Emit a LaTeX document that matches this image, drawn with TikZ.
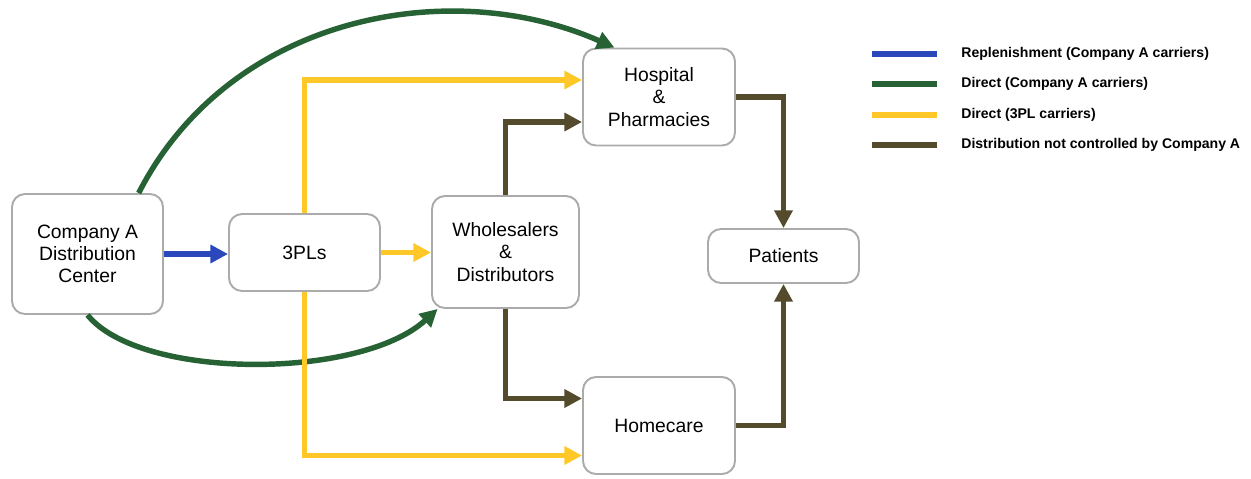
\documentclass[tikz,border=0pt]{standalone}
\usepackage{fontspec}
\setmainfont{Liberation Sans}
\usetikzlibrary{calc,arrows.meta}
\definecolor{repblue}{RGB}{42,72,188}
\definecolor{dirgreen}{RGB}{38,98,52}
\definecolor{plyellow}{RGB}{255,200,40}
\definecolor{ncbrown}{RGB}{84,74,44}
\tikzset{
	box/.style={draw=black!33, line width=1.1pt, rounded corners=0.26cm, fill=white, align=center, inner sep=0pt, font=\fontsize{11}{12.6}\selectfont},
	flow/.style={line width=3.1pt, -{Triangle[length=10pt,width=10pt]}},
	key/.style={line width=3.1pt},
	keytext/.style={anchor=west, inner sep=0pt, font=\bfseries\fontsize{8}{9.6}\selectfont},
}

\begin{document}
\begin{tikzpicture}[x=0.02cm, y=-0.02cm]
			%%%%% START %%%%%
			\useasboundingbox (0, 0) rectangle (1251, 478);
			
			\node[box, minimum width=3.02cm, minimum height=2.4cm] (co) at (87.5, 254) {Company A\\Distribution\\Center};
			\node[box, minimum width=3.02cm, minimum height=1.54cm] (tp) at (304.5, 252.5) {3PLs};
			\node[box, minimum width=2.94cm, minimum height=2.24cm] (wd) at (505.5, 252) {Wholesalers\\\&\\Distributors};
			\node[box, minimum width=3.04cm, minimum height=1.94cm] (hp) at (659, 97) {Hospital\\\&\\Pharmacies};
			\node[box, minimum width=3.02cm, minimum height=1.08cm] (pt) at (783.5, 256) {Patients};
			\node[box, minimum width=3.04cm, minimum height=1.94cm] (hc) at (659, 425.5) {Homecare};
			
			% company A carriers
			\draw[flow, repblue] (co.east) -- (co.east -| tp.west);
			\draw[flow, dirgreen] (co.50) .. controls (230, 15) and (450, -25) .. (hp.132);
			\draw[flow, dirgreen] (co.south) .. controls (140, 380) and (360, 380) .. (wd.220);
			
			% 3PL carriers
			\draw[flow, plyellow] (tp.east) -- (tp.east -| wd.west);
			\draw[flow, plyellow] (tp.north) |- ($(hp.west)+(0, -17)$);
			\draw[flow, plyellow] (tp.south) |- ($(hc.west)+(0, 30)$);
			
			% not controlled
			\draw[flow, ncbrown] (wd.north) |- ($(hp.west)+(0, 25)$);
			\draw[flow, ncbrown] (wd.south) |- ($(hc.west)+(0, -27)$);
			\draw[flow, ncbrown] (hp.east) -| (pt.north);
			\draw[flow, ncbrown] (hc.east) -| (pt.south);
			
			% legend
			\node[keytext] (k1) at (961, 54) {Replenishment (Company A carriers)};
			\node[keytext] (k2) at (961, 84) {Direct (Company A carriers)};
			\node[keytext] (k3) at (961, 115) {Direct (3PL carriers)};
			\node[keytext] (k4) at (961, 145) {Distribution not controlled by Company A};
			\draw[key, repblue] ($(k1.west)+(-89, 0)$) -- ++(65, 0);
			\draw[key, dirgreen] ($(k2.west)+(-89, 0)$) -- ++(65, 0);
			\draw[key, plyellow] ($(k3.west)+(-89, 0)$) -- ++(65, 0);
			\draw[key, ncbrown] ($(k4.west)+(-89, 0)$) -- ++(65, 0);
			
			%%%%% END %%%%%
\end{tikzpicture}
\end{document}
